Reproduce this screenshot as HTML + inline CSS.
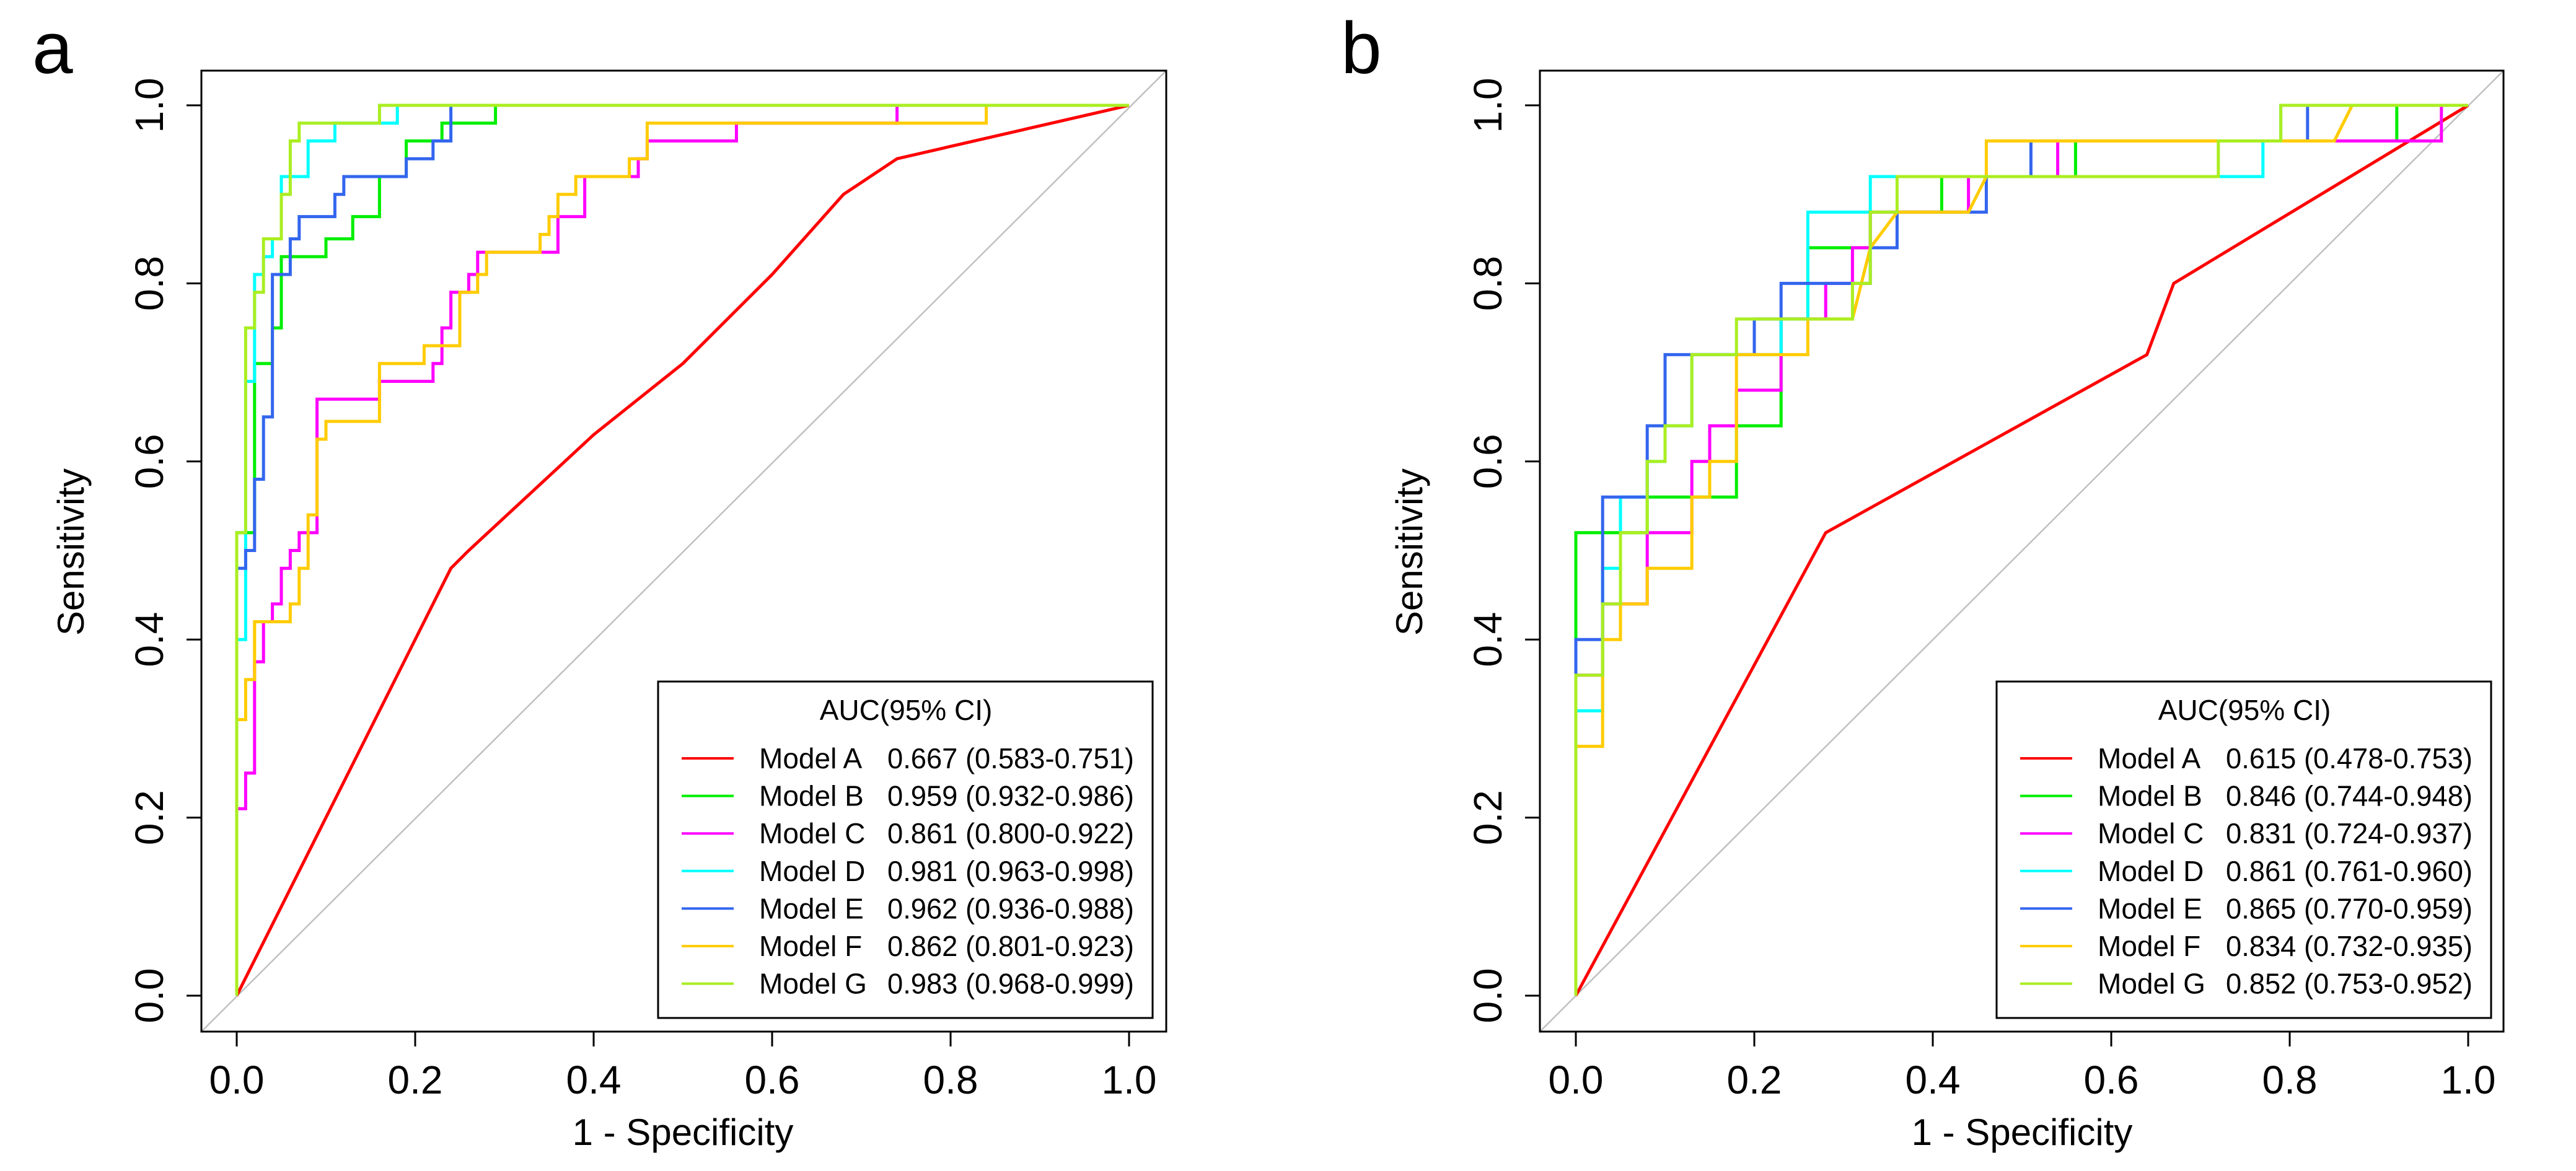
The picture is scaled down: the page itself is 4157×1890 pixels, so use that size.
<!DOCTYPE html>
<html><head><meta charset="utf-8">
<style>
html,body{margin:0;padding:0;background:#fff;}
svg{display:block;font-family:"Liberation Sans",Arial,sans-serif;}
</style></head>
<body>
<svg id="fig" width="4157" height="1890" viewBox="0 0 4157 1890" xmlns="http://www.w3.org/2000/svg"></svg>
<script>
const modelNames = ["Model A","Model B","Model C","Model D","Model E","Model F","Model G"];
const modelColors = ["#ff0000","#00ee00","#ff00ff","#00ffff","#3366ee","#ffcc00","#aaee22"];
const xTicks = [0,0.2,0.4,0.6,0.8,1.0];
const yTicks = [0,0.2,0.4,0.6,0.8,1.0];
const tickLabels = ["0.0","0.2","0.4","0.6","0.8","1.0"];
const aucA = ["0.667 (0.583-0.751)","0.959 (0.932-0.986)","0.861 (0.800-0.922)","0.981 (0.963-0.998)","0.962 (0.936-0.988)","0.862 (0.801-0.923)","0.983 (0.968-0.999)"];
const aucB = ["0.615 (0.478-0.753)","0.846 (0.744-0.948)","0.831 (0.724-0.937)","0.861 (0.761-0.960)","0.865 (0.770-0.959)","0.834 (0.732-0.935)","0.852 (0.753-0.952)"];
// Panel a curves: [fpr, tpr]
const a_A = [[0,0],[0.24,0.48],[0.26,0.50],[0.40,0.63],[0.50,0.71],[0.60,0.81],[0.68,0.90],[0.74,0.94],[1,1]];
const a_B = [[0,0],[0,0.52],[0.02,0.52],[0.02,0.71],[0.04,0.71],[0.04,0.75],[0.05,0.75],[0.05,0.83],[0.10,0.83],[0.10,0.85],[0.13,0.85],[0.13,0.875],[0.16,0.875],[0.16,0.92],[0.19,0.92],[0.19,0.96],[0.23,0.96],[0.23,0.98],[0.29,0.98],[0.29,1],[1,1]];
const a_C = [[0,0],[0,0.21],[0.01,0.21],[0.01,0.25],[0.02,0.25],[0.02,0.375],[0.03,0.375],[0.03,0.42],[0.04,0.42],[0.04,0.44],[0.05,0.44],[0.05,0.48],[0.06,0.48],[0.06,0.50],[0.07,0.50],[0.07,0.52],[0.09,0.52],[0.09,0.67],[0.16,0.67],[0.16,0.69],[0.22,0.69],[0.22,0.71],[0.23,0.71],[0.23,0.75],[0.24,0.75],[0.24,0.79],[0.26,0.79],[0.26,0.81],[0.27,0.81],[0.27,0.835],[0.36,0.835],[0.36,0.875],[0.39,0.875],[0.39,0.92],[0.45,0.92],[0.45,0.94],[0.46,0.94],[0.46,0.96],[0.56,0.96],[0.56,0.98],[0.74,0.98],[0.74,1],[1,1]];
const a_D = [[0,0],[0,0.40],[0.01,0.40],[0.01,0.69],[0.02,0.69],[0.02,0.81],[0.03,0.81],[0.03,0.83],[0.04,0.83],[0.04,0.85],[0.05,0.85],[0.05,0.92],[0.08,0.92],[0.08,0.96],[0.11,0.96],[0.11,0.98],[0.18,0.98],[0.18,1],[1,1]];
const a_E = [[0,0],[0,0.48],[0.01,0.48],[0.01,0.50],[0.02,0.50],[0.02,0.58],[0.03,0.58],[0.03,0.65],[0.04,0.65],[0.04,0.81],[0.06,0.81],[0.06,0.85],[0.07,0.85],[0.07,0.875],[0.11,0.875],[0.11,0.90],[0.12,0.90],[0.12,0.92],[0.19,0.92],[0.19,0.94],[0.22,0.94],[0.22,0.96],[0.24,0.96],[0.24,1],[1,1]];
const a_F = [[0,0],[0,0.31],[0.01,0.31],[0.01,0.355],[0.02,0.355],[0.02,0.42],[0.06,0.42],[0.06,0.44],[0.07,0.44],[0.07,0.48],[0.08,0.48],[0.08,0.54],[0.09,0.54],[0.09,0.625],[0.10,0.625],[0.10,0.645],[0.16,0.645],[0.16,0.71],[0.21,0.71],[0.21,0.73],[0.25,0.73],[0.25,0.79],[0.27,0.79],[0.27,0.81],[0.28,0.81],[0.28,0.835],[0.34,0.835],[0.34,0.855],[0.35,0.855],[0.35,0.875],[0.36,0.875],[0.36,0.90],[0.38,0.90],[0.38,0.92],[0.44,0.92],[0.44,0.94],[0.46,0.94],[0.46,0.98],[0.84,0.98],[0.84,1],[1,1]];
const a_G = [[0,0],[0,0.52],[0.01,0.52],[0.01,0.75],[0.02,0.75],[0.02,0.79],[0.03,0.79],[0.03,0.85],[0.05,0.85],[0.05,0.90],[0.06,0.90],[0.06,0.96],[0.07,0.96],[0.07,0.98],[0.16,0.98],[0.16,1],[1,1]];
// Panel b curves
const b_A = [[0,0],[0.28,0.52],[0.64,0.72],[0.67,0.80],[1,1]];
const b_B = [[0,0],[0,0.52],[0.08,0.52],[0.08,0.56],[0.18,0.56],[0.18,0.64],[0.23,0.64],[0.23,0.76],[0.26,0.76],[0.26,0.84],[0.33,0.84],[0.33,0.88],[0.41,0.88],[0.41,0.92],[0.56,0.92],[0.56,0.96],[0.92,0.96],[0.92,1],[1,1]];
const b_C = [[0,0],[0,0.36],[0.03,0.36],[0.03,0.44],[0.08,0.44],[0.08,0.52],[0.13,0.52],[0.13,0.60],[0.15,0.60],[0.15,0.64],[0.18,0.64],[0.18,0.68],[0.23,0.68],[0.23,0.76],[0.28,0.76],[0.28,0.80],[0.31,0.80],[0.31,0.84],[0.33,0.84],[0.33,0.88],[0.44,0.88],[0.44,0.92],[0.54,0.92],[0.54,0.96],[0.97,0.96],[0.97,1],[1,1]];
const b_D = [[0,0],[0,0.32],[0.03,0.32],[0.03,0.48],[0.05,0.48],[0.05,0.56],[0.08,0.56],[0.08,0.60],[0.10,0.60],[0.10,0.64],[0.13,0.64],[0.13,0.72],[0.23,0.72],[0.23,0.76],[0.26,0.76],[0.26,0.88],[0.33,0.88],[0.33,0.92],[0.77,0.92],[0.77,0.96],[0.79,0.96],[0.79,1],[1,1]];
const b_E = [[0,0],[0,0.40],[0.03,0.40],[0.03,0.56],[0.08,0.56],[0.08,0.64],[0.10,0.64],[0.10,0.72],[0.20,0.72],[0.20,0.76],[0.23,0.76],[0.23,0.80],[0.33,0.80],[0.33,0.84],[0.36,0.84],[0.36,0.88],[0.46,0.88],[0.46,0.92],[0.51,0.92],[0.51,0.96],[0.82,0.96],[0.82,1],[1,1]];
const b_F = [[0,0],[0,0.28],[0.03,0.28],[0.03,0.40],[0.05,0.40],[0.05,0.44],[0.08,0.44],[0.08,0.48],[0.13,0.48],[0.13,0.56],[0.15,0.56],[0.15,0.60],[0.18,0.60],[0.18,0.72],[0.26,0.72],[0.26,0.76],[0.31,0.76],[0.33,0.84],[0.36,0.88],[0.44,0.88],[0.46,0.92],[0.46,0.96],[0.85,0.96],[0.87,1],[1,1]];
const b_G = [[0,0],[0,0.36],[0.03,0.36],[0.03,0.44],[0.05,0.44],[0.05,0.52],[0.08,0.52],[0.08,0.60],[0.10,0.60],[0.10,0.64],[0.13,0.64],[0.13,0.72],[0.18,0.72],[0.18,0.76],[0.31,0.76],[0.31,0.80],[0.33,0.80],[0.33,0.88],[0.36,0.88],[0.36,0.92],[0.72,0.92],[0.72,0.96],[0.79,0.96],[0.79,1],[1,1]];

const NS = "http://www.w3.org/2000/svg";
const svg = document.getElementById("fig");
function mk(tag, attrs, parent){
  const e = document.createElementNS(NS, tag);
  for (const k in attrs) e.setAttribute(k, attrs[k]);
  (parent||svg).appendChild(e);
  return e;
}
function panel(cfg){
  const g = mk("g", {});
  
  
  const sx = v => cfg.x0 + v*(cfg.x1-cfg.x0);
  const sy = v => cfg.y0 - v*(cfg.y0-cfg.y1);
  const lt = mk("text", {x:cfg.lx, y:118, "font-size":118, fill:"#000"}, g);
  lt.textContent = cfg.letter;
  
  
  // diagonal
  const dg = mk("line", {x1:cfg.bl, y1:cfg.bb, x2:cfg.br, y2:cfg.bt, stroke:"#c0c0c0", "stroke-width":2.5}, g);
  
  
  // curves
  const sets = cfg.curves;
  for (let i=0;i<sets.length;i++){
    const pts = sets[i].map(p => sx(p[0]).toFixed(1)+","+sy(p[1]).toFixed(1)).join(" ");
    const pl = mk("polyline", {points:pts, fill:"none", stroke:modelColors[i], "stroke-width":5, "stroke-linejoin":"miter"}, g);
    
    
  }
  // box
  const box = mk("rect", {x:cfg.bl, y:cfg.bt, width:cfg.br-cfg.bl, height:cfg.bb-cfg.bt, fill:"none", stroke:"#000", "stroke-width":3}, g);
  
  
  // x axis
  mk("line", {x1:sx(0), y1:cfg.bb, x2:sx(1), y2:cfg.bb, stroke:"#000","stroke-width":3}, g);
  for (let i=0;i<xTicks.length;i++){
    const X = sx(xTicks[i]);
    mk("line", {x1:X, y1:cfg.bb, x2:X, y2:cfg.bb+24, stroke:"#000","stroke-width":3}, g);
    const t = mk("text", {x:X, y:1765, "font-size":64, "text-anchor":"middle", fill:"#000"}, g);
    t.textContent = tickLabels[i];
    
    
  }
  for (let i=0;i<yTicks.length;i++){
    const Y = sy(yTicks[i]);
    mk("line", {x1:cfg.bl, y1:Y, x2:cfg.bl-24, y2:Y, stroke:"#000","stroke-width":3}, g);
    const tx = cfg.bl - 62;
    const t = mk("text", {x:tx, y:Y, "font-size":64, "text-anchor":"middle", fill:"#000", transform:`rotate(-90 ${tx} ${Y})`}, g);
    t.textContent = tickLabels[i];
    
    
  }
  const xt = mk("text", {x:(sx(0)+sx(1))/2, y:1848, "font-size":60, "text-anchor":"middle", fill:"#000"}, g);
  xt.textContent = "1 - Specificity";
  
  
  const yx = cfg.bl - 190;
  const yt = mk("text", {x:yx, y:891, "font-size":60, "text-anchor":"middle", fill:"#000", transform:`rotate(-90 ${yx} 891)`}, g);
  yt.textContent = "Sensitivity";
  
  
  // legend
  const lg = mk("g", {}, g);
  
  
  mk("rect", {x:cfg.legX, y:1100, width:798, height:543, fill:"#fff", stroke:"#000", "stroke-width":3}, lg);
  const lt2 = mk("text", {x:cfg.legX+400, y:1162, "font-size":46, "text-anchor":"middle", fill:"#000"}, lg);
  lt2.textContent = "AUC(95% CI)";
  
  
  for (let i=0;i<modelNames.length;i++){
    const Y = 1224 + i*60.6;
    const en = mk("g", {}, lg);
    
    
    mk("line", {x1:cfg.legX+38, y1:Y, x2:cfg.legX+122, y2:Y, stroke:modelColors[i], "stroke-width":4}, en);
    const n = mk("text", {x:cfg.legX+163, y:Y+16, "font-size":46, fill:"#000"}, en);
    n.textContent = modelNames[i];
    const v = mk("text", {x:cfg.legX+370, y:Y+16, "font-size":46, fill:"#000", textLength:398, lengthAdjust:"spacingAndGlyphs"}, en);
    v.textContent = cfg.auc[i];
  }
}
panel({letter:"a", lx:52, bl:325, br:1882, bt:114, bb:1665, x0:382, x1:1822, y0:1607, y1:170, legX:1062, auc:aucA,
  curves:[a_A,a_B,a_C,a_D,a_E,a_F,a_G]});
panel({letter:"b", lx:2164, bl:2485, br:4040, bt:114, bb:1665, x0:2543, x1:3983, y0:1607, y1:170, legX:3222, auc:aucB,
  curves:[b_A,b_B,b_C,b_D,b_E,b_F,b_G]});
</script>
</body></html>
